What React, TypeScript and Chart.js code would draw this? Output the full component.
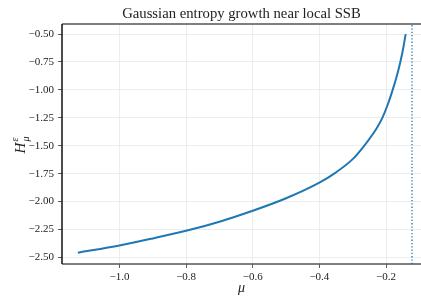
import React, { useEffect, useRef } from "react";
import { Chart, registerables } from "chart.js";

Chart.register(...registerables);

const muValues = [-1.125, -1.0, -0.9, -0.8, -0.7, -0.6, -0.5, -0.4, -0.35, -0.3, -0.268, -0.228, -0.211, -0.195, -0.18, -0.168, -0.157, -0.148, -0.141];
const entropyValues = [-2.458, -2.393, -2.33, -2.262, -2.18, -2.082, -1.97, -1.83, -1.738, -1.62, -1.51, -1.343, -1.25, -1.133, -1.0, -0.88, -0.75, -0.62, -0.5];
const criticalMu = -0.122;
const xTickValues = [-1.0, -0.8, -0.6, -0.4, -0.2];
const yTickValues = [-2.5, -2.25, -2.0, -1.75, -1.5, -1.25, -1.0, -0.75, -0.5];
const xRange = [-1.1725, -0.095];
const yRange = [-2.559, -0.41];
const titleText = "Gaussian entropy growth near local SSB";

const FONT = '"Liberation Serif", "DejaVu Serif", serif';
const BLUE = "#1f77b4";

const fmt = (v: number, d: number) => (v < 0 ? "\u2212" : "") + Math.abs(v).toFixed(d);

const decorPlugin = {
  id: "decor",
  afterDraw(chart: any) {
    const { ctx, chartArea } = chart;
    const { left, right, top, bottom } = chartArea;
    ctx.save();
    ctx.lineWidth = 1.5;
    ctx.strokeStyle = "#555";
    ctx.beginPath();
    ctx.moveTo(left, top);
    ctx.lineTo(right, top);
    ctx.stroke();
    ctx.beginPath();
    ctx.moveTo(left, bottom);
    ctx.lineTo(right, bottom);
    ctx.stroke();
    ctx.strokeStyle = "#111";
    ctx.beginPath();
    ctx.moveTo(left, top);
    ctx.lineTo(left, bottom);
    ctx.stroke();
    ctx.fillStyle = "#222";
    ctx.font = `14.7px ${FONT}`;
    ctx.textAlign = "center";
    ctx.textBaseline = "alphabetic";
    ctx.fillText(titleText, (left + right) / 2, 18);
    ctx.font = `italic 14px ${FONT}`;
    ctx.fillText("\u03bc", (left + right) / 2, 292);
    ctx.translate(20, (top + bottom) / 2);
    ctx.rotate(-Math.PI / 2);
    ctx.textAlign = "left";
    ctx.font = `italic 15px ${FONT}`;
    const hw = ctx.measureText("H").width;
    const total = hw + 8;
    const x0 = -total / 2;
    ctx.fillText("H", x0, 5);
    ctx.font = `italic 10px ${FONT}`;
    ctx.fillText("\u03b5", x0 + hw + 1, -2);
    ctx.fillText("\u03bc", x0 + hw + 1, 9);
    ctx.restore();
  },
};

export default function App() {
  const ref = useRef<HTMLCanvasElement | null>(null);
  useEffect(() => {
    if (!ref.current) return;
    const curve = muValues.map((m, i) => ({ x: m, y: entropyValues[i] }));
    const chart = new Chart(ref.current, {
      type: "scatter",
      data: {
        datasets: [
          {
            data: curve,
            showLine: true,
            borderColor: BLUE,
            borderWidth: 2,
            pointRadius: 0,
            cubicInterpolationMode: "monotone",
          } as any,
          {
            data: [
              { x: criticalMu, y: yRange[0] },
              { x: criticalMu, y: yRange[1] },
            ],
            showLine: true,
            borderColor: BLUE,
            borderWidth: 1.3,
            borderDash: [1.3, 2],
            pointRadius: 0,
          } as any,
        ],
      },
      options: {
        animation: false,
        responsive: false,
        maintainAspectRatio: false,
        layout: { padding: { top: 24, right: 0, left: 0, bottom: 0 } },
        plugins: { legend: { display: false }, tooltip: { enabled: false }, title: { display: false } },
        scales: {
          x: {
            type: "linear",
            min: xRange[0],
            max: xRange[1],
            afterFit: (s: any) => {
              s.height = 33;
            },
            afterBuildTicks: (s: any) => {
              s.ticks = xTickValues.map((v) => ({ value: v }));
            },
            grid: { color: "#e8e8e8", lineWidth: 0.8, tickColor: "#333", tickLength: 4, drawTicks: true },
            border: { display: false },
            ticks: {
              color: "#222",
              font: { family: FONT, size: 11 },
              padding: 3,
              maxRotation: 0,
              callback: (v: any) => fmt(Number(v), 1),
            },
          },
          y: {
            type: "linear",
            min: yRange[0],
            max: yRange[1],
            afterFit: (s: any) => {
              s.width = 62;
            },
            afterBuildTicks: (s: any) => {
              s.ticks = yTickValues.map((v) => ({ value: v }));
            },
            grid: { color: "#e8e8e8", lineWidth: 0.8, tickColor: "#333", tickLength: 4, drawTicks: true },
            border: { display: false },
            ticks: {
              color: "#222",
              font: { family: FONT, size: 11 },
              padding: 4,
              callback: (v: any) => fmt(Number(v), 2),
            },
          },
        },
      },
      plugins: [decorPlugin],
    } as any);
    return () => chart.destroy();
  }, []);
  return (
    <div style={{ position: "fixed", left: 0, top: 0, width: 421, height: 297, background: "#fff" }}>
      <canvas ref={ref} width={421} height={297} style={{ width: 421, height: 297, display: "block" }} />
    </div>
  );
}
